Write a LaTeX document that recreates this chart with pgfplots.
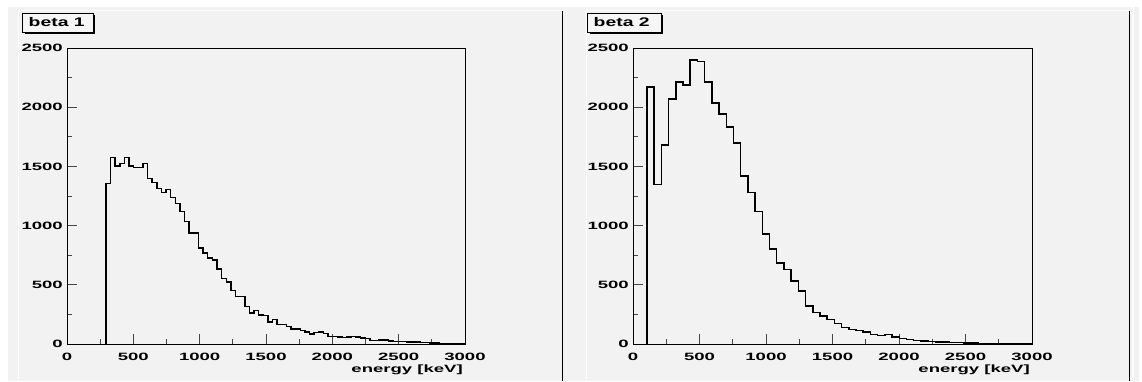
\documentclass[border=0pt]{standalone}
\usepackage{pgfplots}
\pgfplotsset{compat=1.18}
\usepackage{pgfplotstable}
\usepackage{graphicx}
\usepackage{fontspec}
\setmainfont{Liberation Sans}

\definecolor{canvas}{RGB}{242,242,242}
\definecolor{hilite}{RGB}{252,252,252}
\definecolor{shade}{RGB}{200,200,200}
\definecolor{boxfill}{RGB}{246,246,246}
\definecolor{tickcol}{RGB}{70,70,70}

% wide bold lettering of the ROOT canvas
\newcommand\wide[1]{\scalebox{1.75}[1]{\bfseries #1}}
\newcommand\widetitle[1]{\scalebox{1.55}[1]{\fontsize{12.5}{14}\selectfont\bfseries #1}}

% beta 1: left edge of each bin [keV], counts
\pgfplotstableread{
x y
293.0 0
293.0 1355
327.9 1577
362.8 1503
397.7 1526
432.6 1577
467.5 1503
502.4 1489
537.3 1489
572.2 1526
607.1 1397
642.0 1366
676.9 1315
711.8 1281
746.7 1307
781.6 1236
816.5 1186
851.4 1118
886.3 1034
921.2 936
956.1 936
991.0 809
1025.9 767
1060.8 725
1095.7 711
1130.6 633
1165.5 554
1200.4 523
1235.3 450
1270.2 402
1305.1 402
1340.0 318
1374.9 261
1409.8 281
1444.7 244
1479.6 239
1514.5 185
1549.4 205
1584.3 166
1619.2 163
1654.1 149
1689.0 126
1723.9 126
1758.8 115
1793.7 101
1828.6 84
1863.5 98
1898.4 101
1933.3 87
1968.2 65
2003.1 65
2038.0 60
2072.9 55
2107.8 58
2142.7 62
2177.6 58
2212.5 52
2247.4 45
2282.3 30
2317.2 28
2352.1 35
2387.0 33
2421.9 25
2456.8 22
2491.7 20
2526.6 22
2561.5 19
2596.4 18
2631.3 15
2666.2 14
2701.1 13
2736.0 10
2770.9 8
2805.8 6
2840.7 5
2875.6 6
2910.5 4
2945.4 3
2980.3 3
3000.0 3
}\betaone

% beta 2: left edge of each bin [keV], counts
\pgfplotstableread{
x y
105.0 0
105.0 2171
159.2 1347
213.4 1679
267.6 2070
321.8 2211
376.0 2188
430.2 2399
484.4 2388
538.6 2211
592.8 2037
647.0 1944
701.2 1831
755.4 1697
809.6 1421
863.8 1278
918.0 1118
972.2 927
1026.4 801
1080.6 685
1134.8 629
1189.0 534
1243.2 447
1297.4 320
1351.6 267
1405.8 236
1460.0 208
1514.2 174
1568.4 140
1622.6 124
1676.8 112
1731.0 101
1785.2 79
1839.4 73
1893.6 79
1947.8 59
2002.0 45
2056.2 37
2110.4 31
2164.6 25
2218.8 22
2273.0 17
2327.2 15
2381.4 13
2435.6 11
2489.8 9
2544.0 8
2598.2 6
2652.4 5
2706.6 4
2760.8 4
2815.0 3
2869.2 2
2923.4 2
2977.6 1
3000.0 1
}\betatwo

\pgfplotsset{
  rootframe/.style={
    scale only axis,
    height=296pt,
    xmin=0, xmax=3000, ymin=0, ymax=2500,
    xtick={0,500,...,3000},
    ytick={0,500,...,2500},
    xticklabels={\wide{0},\wide{500},\wide{1000},\wide{1500},\wide{2000},\wide{2500},\wide{3000}},
    yticklabels={\wide{0},\wide{500},\wide{1000},\wide{1500},\wide{2000},\wide{2500}},
    minor x tick num=1,
    minor y tick num=1,
    xtick pos=left, ytick pos=left,
    tick align=inside,
    major tick length=10pt,
    minor tick length=5pt,
    tick style={tickcol, line width=0.9pt},
    axis line style={black, line width=1pt},
    xticklabel style={anchor=north, inner sep=0pt, yshift=-8.5pt, font=\fontsize{10.6}{12}\selectfont},
    yticklabel style={anchor=east, inner sep=0pt, xshift=-4pt, font=\fontsize{10.6}{12}\selectfont},
    xlabel={\wide{energy [keV]}},
    xlabel style={at={(rel axis cs:1,0)}, anchor=north east, inner sep=0pt,
                  xshift=-2pt, yshift=-20.5pt, font=\fontsize{10.6}{12}\selectfont},
  },
  histline/.style={const plot, black, line width=1.5pt, mark=none},
}

\begin{document}
\begin{tikzpicture}[x=1pt,y=1pt]
  \path[use as bounding box] (0,0) rectangle (1142,381);
  \fill[white] (0,0) rectangle (1142,381);
  % canvas and the two pads
  \fill[canvas] (8,0) rectangle (1139,374);
  \draw[hilite, line width=1pt] (18,0) -- (18,370) -- (562,370);
  \draw[shade, line width=1pt] (562,370) -- (562,0);
  \draw[hilite, line width=1pt] (586,0) -- (586,370) -- (1129,370);
  \draw[shade, line width=1pt] (1129,370) -- (1129,0);
  \draw[hilite, line width=2pt] (1133,0) -- (1133,374);

  \begin{axis}[rootframe, width=398pt, at={(67pt,37pt)}, anchor=south west]
    \addplot[histline] table[x=x, y=y] {\betaone};
  \end{axis}

  \begin{axis}[rootframe, width=399pt, at={(633pt,37pt)}, anchor=south west]
    \addplot[histline] table[x=x, y=y] {\betatwo};
  \end{axis}

  % title boxes
  \fill[black] (24.5,347) rectangle (95,366);
  \filldraw[fill=boxfill, draw=black, line width=0.8pt] (22,349) rectangle (93,368);
  \node[anchor=west, inner sep=0pt] at (28.5,358.5) {\widetitle{beta 1}};

  \fill[black] (589.5,347) rectangle (663,366);
  \filldraw[fill=boxfill, draw=black, line width=0.8pt] (587,349) rectangle (661,368);
  \node[anchor=west, inner sep=0pt] at (593.5,358.5) {\widetitle{beta 2}};
\end{tikzpicture}
\end{document}
